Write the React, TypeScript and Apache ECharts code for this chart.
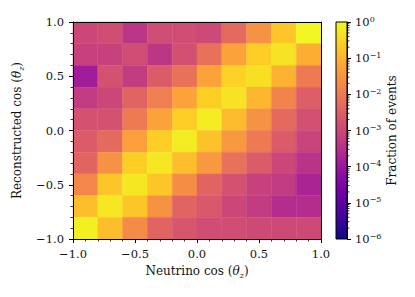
import React, { useEffect, useRef } from "react";
import * as echarts from "echarts";

const xEdges = [-1.0, -0.8, -0.6, -0.4, -0.2, 0.0, 0.2, 0.4, 0.6, 0.8, 1.0];
const yEdges = [-1.0, -0.8, -0.6, -0.4, -0.2, 0.0, 0.2, 0.4, 0.6, 0.8, 1.0];

// Fraction of events, rows listed from the top row (reco 0.8..1.0) to the bottom row (reco -1.0..-0.8),
// columns from neutrino cos = -1 to +1
const rowTop1 = [1.0e-3, 1.3e-3, 4.4e-4, 1.3e-3, 1.3e-3, 1.1e-3, 5.2e-3, 0.0275, 0.19, 0.87];
const rowTop2 = [7.6e-4, 7.6e-4, 1.3e-3, 4.4e-4, 1.5e-3, 6.9e-3, 0.055, 0.25, 0.5, 0.083];
const rowTop3 = [1.3e-4, 1.7e-3, 5.8e-4, 2.6e-3, 6.9e-3, 0.055, 0.29, 0.44, 0.095, 0.0105];
const rowTop4 = [5.8e-4, 1.0e-3, 4.0e-3, 0.012, 0.055, 0.25, 0.5, 0.11, 0.016, 3.0e-3];
const rowTop5 = [1.7e-3, 1.7e-3, 0.0105, 0.055, 0.25, 0.66, 0.126, 0.0275, 5.2e-3, 1.5e-3];
const rowTop6 = [2.6e-3, 5.2e-3, 0.048, 0.25, 0.66, 0.166, 0.036, 0.0105, 2.6e-3, 8.7e-4];
const rowTop7 = [4.0e-3, 0.0275, 0.25, 0.575, 0.145, 0.036, 6.9e-3, 2.6e-3, 1.0e-3, 3.8e-4];
const rowTop8 = [0.018, 0.19, 0.575, 0.19, 0.024, 4.0e-3, 1.7e-3, 7.6e-4, 5.8e-4, 1.9e-4];
const rowTop9 = [0.145, 0.575, 0.19, 0.0275, 4.0e-3, 2.3e-3, 1.0e-3, 5.8e-4, 2.9e-4, 2.9e-4];
const rowTop10 = [0.76, 0.145, 0.021, 4.0e-3, 2.0e-3, 1.3e-3, 1.3e-3, 1.15e-3, 1.15e-3, 1.15e-3];
const fractionRows = [rowTop1, rowTop2, rowTop3, rowTop4, rowTop5, rowTop6, rowTop7, rowTop8, rowTop9, rowTop10];

const colorbarExponents = [-6, -5, -4, -3, -2, -1, 0];
const minorMultipliers = [2, 3, 4, 5, 6, 7, 8, 9];

const plasma = [
  "#0d0887", "#41049d", "#6a00a8", "#8f0da4", "#b12a90", "#cc4778",
  "#e16462", "#f2844b", "#fca636", "#fcce25", "#f0f921",
];

const FONT = "DejaVu Serif";
const TXT = "#111";

export default function App() {
  const ref = useRef<HTMLDivElement>(null);
  useEffect(() => {
    const chart = echarts.init(ref.current!, null, { renderer: "svg" });

    const cells: number[][] = [];
    const nRows = fractionRows.length;
    fractionRows.forEach((row, r) => {
      const yLo = yEdges[nRows - 1 - r];
      const yHi = yEdges[nRows - r];
      row.forEach((v, c) => {
        cells.push([xEdges[c], xEdges[c + 1], yLo, yHi, Math.log10(v)]);
      });
    });

    const minorTicks: number[][] = [];
    colorbarExponents.slice(0, -1).forEach((e) => {
      minorMultipliers.forEach((m) => minorTicks.push([1, e + Math.log10(m)]));
    });

    const fmt = (v: number) => (v < 0 ? "\u2212" : "") + Math.abs(v).toFixed(1);

    const nameRich = {
      t: { fontFamily: FONT, fontSize: 12, color: TXT, lineHeight: 16 },
      i: { fontFamily: FONT, fontStyle: "italic", fontSize: 12, color: TXT, lineHeight: 16 },
      s: { fontFamily: FONT, fontStyle: "italic", fontSize: 8, color: TXT, lineHeight: 8, verticalAlign: "bottom" },
    };

    const mainAxisCommon = {
      type: "value",
      min: -1,
      max: 1,
      interval: 0.5,
      splitLine: { show: false },
      axisLine: { show: true, lineStyle: { color: "#000", width: 1 } },
      axisTick: { show: true, inside: false, length: 4, lineStyle: { color: "#000", width: 1 } },
      minorTick: { show: true, splitNumber: 5, length: 2.5, lineStyle: { color: "#000", width: 0.8 } },
      minorSplitLine: { show: false },
      axisLabel: { formatter: fmt, fontFamily: FONT, fontSize: 11.5, color: TXT },
      z: 5,
    };

    const frameAxis = {
      type: "value",
      min: -1,
      max: 1,
      splitLine: { show: false },
      axisLine: { show: true, onZero: false, lineStyle: { color: "#000", width: 1 } },
      axisTick: { show: false },
      axisLabel: { show: false },
      z: 5,
    };

    const option: any = {
      animation: false,
      textStyle: { fontFamily: FONT, color: TXT },
      grid: [
        { left: 73, top: 22, width: 248, height: 217 },
        { left: 336, top: 22, width: 11, height: 217 },
      ],
      xAxis: [
        {
          ...mainAxisCommon,
          gridIndex: 0,
          position: "bottom",
          axisLine: { ...mainAxisCommon.axisLine, onZero: false },
          axisLabel: { ...mainAxisCommon.axisLabel, margin: 9 },
          name: "{t|Neutrino cos (}{i|\u03b8}{s|z}{t|)}",
          nameLocation: "middle",
          nameGap: 24,
          nameTextStyle: { rich: nameRich },
        },
        { ...frameAxis, gridIndex: 0, position: "top" },
        { type: "value", gridIndex: 1, min: 0, max: 1, show: false },
      ],
      yAxis: [
        {
          ...mainAxisCommon,
          gridIndex: 0,
          position: "left",
          axisLine: { ...mainAxisCommon.axisLine, onZero: false },
          axisLabel: { ...mainAxisCommon.axisLabel, margin: 9 },
          name: "{t|Reconstructed cos (}{i|\u03b8}{s|z}{t|)}",
          nameLocation: "middle",
          nameRotate: 90,
          nameGap: 43,
          nameTextStyle: { rich: nameRich },
        },
        { ...frameAxis, gridIndex: 0, position: "right" },
        {
          type: "value",
          gridIndex: 1,
          min: -6,
          max: 0,
          interval: 1,
          position: "right",
          splitLine: { show: false },
          axisLine: { show: true, onZero: false, lineStyle: { color: "#000", width: 1 } },
          axisTick: { show: true, inside: false, length: 4, lineStyle: { color: "#000", width: 1 } },
          axisLabel: {
            margin: 8,
            fontFamily: FONT,
            formatter: (v: number) => `{b|10}{e|${v < 0 ? "\u2212" : ""}${Math.abs(v)}}`,
            rich: {
              b: { fontFamily: FONT, fontSize: 11.5, color: TXT, lineHeight: 14 },
              e: { fontFamily: FONT, fontSize: 8, color: TXT, lineHeight: 8, verticalAlign: "top" },
            },
          },
          name: "Fraction of events",
          nameLocation: "middle",
          nameRotate: 90,
          nameGap: 39,
          nameTextStyle: { fontFamily: FONT, fontSize: 12, color: TXT },
          z: 5,
        },
      ],
      visualMap: {
        type: "continuous",
        show: false,
        seriesIndex: 0,
        dimension: 4,
        min: -6,
        max: 0,
        inRange: { color: plasma },
      },
      series: [
        {
          type: "custom",
          xAxisIndex: 0,
          yAxisIndex: 0,
          data: cells,
          encode: { x: [0, 1], y: [2, 3] },
          renderItem: (params: any, api: any) => {
            const p0 = api.coord([api.value(0), api.value(3)]);
            const p1 = api.coord([api.value(1), api.value(2)]);
            const col = api.visual("color");
            return {
              type: "rect",
              shape: { x: p0[0], y: p0[1], width: p1[0] - p0[0], height: p1[1] - p0[1] },
              style: { fill: col, stroke: col, lineWidth: 0.4 },
            };
          },
          z: 2,
        },
        {
          type: "custom",
          xAxisIndex: 2,
          yAxisIndex: 2,
          data: [[0, 1, colorbarExponents[0], colorbarExponents[colorbarExponents.length - 1]]],
          encode: { x: [0, 1], y: [2, 3] },
          renderItem: (params: any, api: any) => {
            const p0 = api.coord([api.value(0), api.value(3)]);
            const p1 = api.coord([api.value(1), api.value(2)]);
            return {
              type: "rect",
              shape: { x: p0[0], y: p0[1], width: p1[0] - p0[0], height: p1[1] - p0[1] },
              style: {
                fill: new echarts.graphic.LinearGradient(
                  0, 1, 0, 0,
                  plasma.map((c, i) => ({ offset: i / (plasma.length - 1), color: c }))
                ),
                stroke: "#000",
                lineWidth: 1,
              },
            };
          },
          z: 2,
        },
        {
          type: "custom",
          xAxisIndex: 2,
          yAxisIndex: 2,
          data: minorTicks,
          clip: false,
          renderItem: (params: any, api: any) => {
            const p = api.coord([api.value(0), api.value(1)]);
            return {
              type: "line",
              shape: { x1: p[0], y1: p[1], x2: p[0] + 2.5, y2: p[1] },
              style: { stroke: "#000", lineWidth: 0.8 },
            };
          },
          z: 3,
        },
      ],
    };

    chart.setOption(option);
    return () => chart.dispose();
  }, []);
  return <div ref={ref} style={{ position: "absolute", left: 0, top: 0, width: 415, height: 297 }} />;
}
